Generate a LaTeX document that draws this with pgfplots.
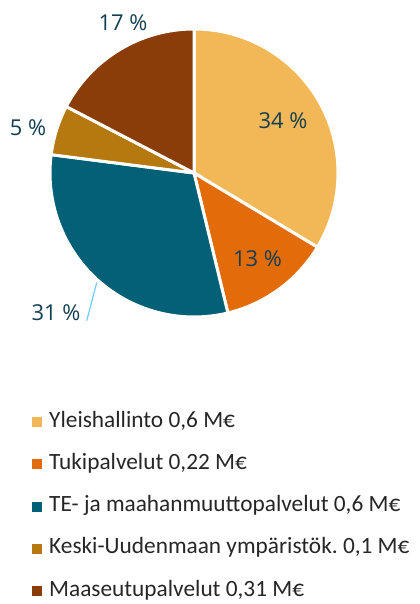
\documentclass[border=0pt]{standalone}
\usepackage{pgfplots}
\usepackage{pgfplotstable}
\pgfplotsset{compat=1.18}
\usepackage{fontspec}
\setmainfont{Carlito}
\newfontfamily\pctfont{Open Sans}
\definecolor{cA}{HTML}{F2B857}
\definecolor{cB}{HTML}{E36C0A}
\definecolor{cC}{HTML}{036076}
\definecolor{cD}{HTML}{B5790F}
\definecolor{cE}{HTML}{8A3D08}
\definecolor{lbl}{HTML}{123E52}
\definecolor{leader}{HTML}{6CCFF6}
\definecolor{legtext}{HTML}{262626}

% value in M EUR, share in %
\pgfplotstableread{
value pct
0.6   34
0.225 13
0.55  31
0.1   5
0.31  17
}\piedata

\begin{document}
\frenchspacing
\begin{tikzpicture}
\pgfplotstablegetelem{0}{value}\of\piedata \pgfmathsetmacro\vA{\pgfplotsretval}
\pgfplotstablegetelem{1}{value}\of\piedata \pgfmathsetmacro\vB{\pgfplotsretval}
\pgfplotstablegetelem{2}{value}\of\piedata \pgfmathsetmacro\vC{\pgfplotsretval}
\pgfplotstablegetelem{3}{value}\of\piedata \pgfmathsetmacro\vD{\pgfplotsretval}
\pgfplotstablegetelem{4}{value}\of\piedata \pgfmathsetmacro\vE{\pgfplotsretval}
\pgfmathsetmacro\tot{\vA+\vB+\vC+\vD+\vE}
\pgfmathsetmacro\aA{90}
\pgfmathsetmacro\aB{\aA-360*\vA/\tot}
\pgfmathsetmacro\aC{\aB-360*\vB/\tot}
\pgfmathsetmacro\aD{\aC-360*\vC/\tot}
\pgfmathsetmacro\aE{\aD-360*\vD/\tot}
\pgfmathsetmacro\aF{\aE-360*\vE/\tot}
\begin{axis}[
  x=1bp, y=1bp, xmin=0, xmax=419, ymin=0, ymax=604,
  hide axis, clip=false,
  legend image code/.code={\fill[#1, draw=none] (0bp,-5bp) rectangle (10bp,5bp);},
  legend style={draw=none, fill=none, at={(axis cs:31.5,191)}, anchor=north west,
    inner sep=0pt, row sep=24.2bp, column sep=0bp,
    font=\fontsize{23.4}{28}\selectfont, text=legtext,
    nodes={inner xsep=7.5bp, inner ysep=0pt, text height=14bp, text depth=4bp}},
  legend cell align=left,
]
\path (axis cs:0,0) rectangle (axis cs:419,604);
\def\cx{194}\def\cy{431}
\fill[cA, draw=white, line width=3bp] (axis cs:\cx,\cy) -- ++(\aA:144bp) arc[start angle=\aA, end angle=\aB, radius=144bp] -- cycle;
\fill[cB, draw=white, line width=3bp] (axis cs:\cx,\cy) -- ++(\aB:144bp) arc[start angle=\aB, end angle=\aC, radius=144bp] -- cycle;
\fill[cC, draw=white, line width=3bp] (axis cs:\cx,\cy) -- ++(\aC:144bp) arc[start angle=\aC, end angle=\aD, radius=144bp] -- cycle;
\fill[cD, draw=white, line width=3bp] (axis cs:\cx,\cy) -- ++(\aD:144bp) arc[start angle=\aD, end angle=\aE, radius=144bp] -- cycle;
\fill[cE, draw=white, line width=3bp] (axis cs:\cx,\cy) -- ++(\aE:144bp) arc[start angle=\aE, end angle=\aF, radius=144bp] -- cycle;
\draw[leader, line width=1.2bp] (axis cs:96.7,321.3) -- (axis cs:86.7,283.3);
\begin{scope}[every node/.style={font=\pctfont\fontsize{22}{26}\selectfont, text=lbl, inner sep=0pt}]
\node at (axis cs:283,483) {34 \%};
\node at (axis cs:257.5,345) {13 \%};
\node at (axis cs:56,291.5) {31 \%};
\node at (axis cs:28,476.5) {5 \%};
\node at (axis cs:123,581) {17 \%};
\end{scope}
\addlegendimage{fill=cA}\addlegendentry{Yleishallinto 0,6 M€}
\addlegendimage{fill=cB}\addlegendentry{Tukipalvelut 0,22 M€}
\addlegendimage{fill=cC}\addlegendentry{TE- ja maahanmuuttopalvelut 0,6 M€}
\addlegendimage{fill=cD}\addlegendentry{Keski-Uudenmaan ympäristök. 0,1 M€}
\addlegendimage{fill=cE}\addlegendentry{Maaseutupalvelut 0,31 M€}
\end{axis}
\end{tikzpicture}
\end{document}
